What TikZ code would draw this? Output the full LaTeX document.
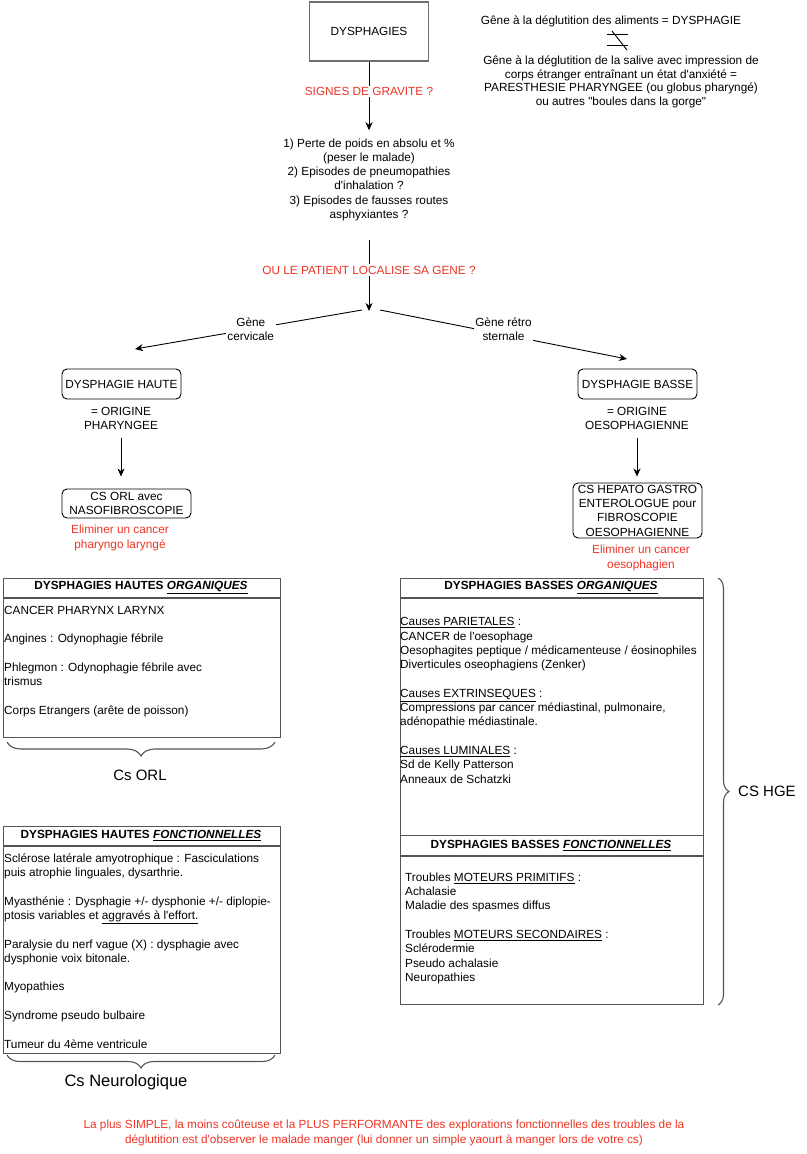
\documentclass[tikz,border=0pt]{standalone}
\usepackage{fontspec}
\setmainfont{Liberation Sans}
\newfontfamily\lsans{Liberation Sans}
\usetikzlibrary{arrows.meta,decorations.pathreplacing}
\definecolor{redtxt}{RGB}{238,52,36}
\definecolor{boxgray}{RGB}{85,85,85}
\definecolor{topgray}{RGB}{110,110,110}
\newcommand\ulx[1]{\underline{#1}}
\begin{document}
\begin{tikzpicture}[x=1pt,y=-1pt,
  font=\lsans\fontsize{11.8}{14.3}\selectfont,
  txt/.style={inner sep=0pt, align=center},
  rtxt/.style={txt, text=redtxt},
  lab/.style={fill=white, inner sep=1.5pt, align=center},
  rlab/.style={lab, text=redtxt},
  rbox/.style={draw=black, line width=0.9pt, rounded corners=5pt, inner sep=0pt, align=center},
  bigbox/.style={draw=boxgray, line width=1.2pt, inner sep=0pt, anchor=north west},
  hdr/.style={inner sep=0pt, font=\lsans\fontsize{11.8}{14.3}\selectfont\bfseries},
  body/.style={inner sep=0pt, align=left, anchor=north west},
  arr/.style={line width=0.9pt, -{Stealth[length=8pt,width=7pt,inset=2.5pt]}},
  conn/.style={line width=0.9pt},
  brc/.style={draw=boxgray, line width=1.1pt, decorate, decoration={brace, amplitude=#1}},
  big/.style={inner sep=0pt, font=\lsans\fontsize{15}{17}\selectfont}
]
\useasboundingbox (0,0) rectangle (806,1154);

% ---------- top ----------
\node[draw=topgray, line width=1.5pt, minimum width=119pt, minimum height=59pt, inner sep=0pt] (top) at (369,31.5) {DYSPHAGIES};

\node[txt, inner ysep=8pt] (info) at (369,179.7) {1) Perte de poids en absolu et \%\\(peser le malade)\\2) Episodes de pneumopathies\\d'inhalation ?\\3) Episodes de fausses routes\\asphyxiantes ?};

\coordinate (split) at (369,311);
\coordinate (cl) at (362,310);
\coordinate (cr) at (380,310);
\coordinate (el) at (135,349);
\coordinate (er) at (627,359);

\draw[arr] (top.south) -- (info.north) node[rlab, pos=0.432] {SIGNES DE GRAVITE ?};
\draw[arr, shorten <=11pt] (info.south) -- (split) node[rlab, pos=0.5] {OU LE PATIENT LOCALISE SA GENE ?};

\draw[arr] (cl) -- (el) node[lab, pos=0.49] {Gène\\cervicale};
\draw[arr] (cr) -- (er) node[lab, pos=0.5, yshift=5pt] {Gène rétro\\sternale};

% ---------- right top note ----------
\node[txt] (note1) at (611,21) {Gêne à la déglutition des aliments = DYSPHAGIE};
\node[txt, font=\lsans\fontsize{11.8}{13.7}\selectfont] (note2) at (621,82) {Gêne à la déglutition de la salive avec impression de\\corps étranger entraînant un état d'anxiété =\\PARESTHESIE PHARYNGEE (ou globus pharyngé)\\ou autres "boules dans la gorge"};
\draw[line width=0.9pt] (607,34) -- (628,34);
\draw[line width=0.9pt] (607,45) -- (628,45);
\draw[line width=0.9pt] (612,31) -- (627,50);

% ---------- left branch ----------
\node[rbox, minimum width=119pt, minimum height=30pt] (dh) at (121.5,384) {DYSPHAGIE HAUTE};
\node[txt] (oh) at (121,418.5) {= ORIGINE\\PHARYNGEE};
\node[rbox, minimum width=129pt, minimum height=29pt] (orl) at (126.5,503.5) {CS ORL avec\\NASOFIBROSCOPIE};
\draw[arr, shorten <=8pt, shorten >=12pt] (oh.south) -- (oh.south |- orl.north);
\node[rtxt] (elim1) at (120,538) {Eliminer un cancer\\pharyngo laryngé};

% ---------- right branch ----------
\node[rbox, minimum width=119pt, minimum height=30pt] (db) at (637.5,384) {DYSPHAGIE BASSE};
\node[txt] (ob) at (637,418.5) {= ORIGINE\\OESOPHAGIENNE};
\node[rbox, minimum width=129pt, minimum height=55pt] (hge) at (637.5,510.5) {CS HEPATO GASTRO\\ENTEROLOGUE pour\\FIBROSCOPIE\\OESOPHAGIENNE};
\draw[arr, shorten <=8pt, shorten >=6pt] (ob.south) -- (ob.south |- hge.north);
\node[rtxt] (elim2) at (641,558) {Eliminer un cancer\\oesophagien};

% ---------- Hautes organiques ----------
\node[bigbox, minimum width=277pt, minimum height=159pt] (ho) at (2.5,578) {};
\draw[draw=boxgray, line width=1.2pt] ([yshift=-20pt]ho.north west) -- ([yshift=-20pt]ho.north east);
\node[hdr] (hoh) at (141,588) {DYSPHAGIES HAUTES \ulx{\textit{ORGANIQUES}}};
\node[body] (hob) at (4,602.5) {\rule{0pt}{11.5pt}CANCER PHARYNX LARYNX\\[14.3pt]
Angines : Odynophagie fébrile\\[14.3pt]
Phlegmon : Odynophagie fébrile avec\\
trismus\\[14.3pt]
Corps Etrangers (arête de poisson)};
\draw[brc=14] (275,742) -- (7,742);
\node[big] (csorl) at (140,775) {Cs ORL};

% ---------- Hautes fonctionnelles ----------
\node[bigbox, minimum width=277pt, minimum height=227pt] (hf) at (2.5,825.5) {};
\draw[draw=boxgray, line width=1.2pt] ([yshift=-20.5pt]hf.north west) -- ([yshift=-20.5pt]hf.north east);
\node[hdr] (hfh) at (141,835.5) {DYSPHAGIES HAUTES \ulx{\textit{FONCTIONNELLES}}};
\node[body] (hfb) at (4,850.5) {\rule{0pt}{11.5pt}Sclérose latérale amyotrophique : Fasciculations\\
puis atrophie linguales, dysarthrie.\\[14.3pt]
Myasthénie : Dysphagie +/- dysphonie +/- diplopie-\\
ptosis variables et \ulx{aggravés à l'effort.}\\[14.3pt]
Paralysie du nerf vague (X) : dysphagie avec\\
dysphonie voix bitonale.\\[14.3pt]
Myopathies\\[14.3pt]
Syndrome pseudo bulbaire\\[14.3pt]
Tumeur du 4ème ventricule};
\draw[brc=13] (275,1055) -- (7,1055);
\node[big, font=\lsans\fontsize{16.5}{19}\selectfont] (csneuro) at (126,1082) {Cs Neurologique};

% ---------- Basses organiques ----------
\node[bigbox, minimum width=303pt, minimum height=257pt] (bo) at (399.5,578) {};
\draw[draw=boxgray, line width=1.2pt] ([yshift=-20pt]bo.north west) -- ([yshift=-20pt]bo.north east);
\node[hdr] (boh) at (551,587.5) {DYSPHAGIES BASSES \ulx{\textit{ORGANIQUES}}};
\node[body] (bob) at (400,614) {\rule{0pt}{11.5pt}\ulx{Causes PARIETALES} :\\
CANCER de l'oesophage\\
Oesophagites peptique / médicamenteuse / éosinophiles\\
Diverticules oseophagiens (Zenker)\\[14.3pt]
\ulx{Causes EXTRINSEQUES} :\\
Compressions par cancer médiastinal, pulmonaire,\\
adénopathie médiastinale.\\[14.3pt]
\ulx{Causes LUMINALES} :\\
Sd de Kelly Patterson\\
Anneaux de Schatzki};

% ---------- Basses fonctionnelles ----------
\node[bigbox, minimum width=303pt, minimum height=169pt] (bf) at (399.5,835) {};
\draw[draw=boxgray, line width=1.2pt] ([yshift=-21pt]bf.north west) -- ([yshift=-21pt]bf.north east);
\node[hdr] (bfh) at (551,845.5) {DYSPHAGIES BASSES \ulx{\textit{FONCTIONNELLES}}};
\node[body] (bfb) at (405,869.5) {\rule{0pt}{11.5pt}Troubles \ulx{MOTEURS PRIMITIFS} :\\
Achalasie\\
Maladie des spasmes diffus\\[14.3pt]
Troubles \ulx{MOTEURS SECONDAIRES} :\\
Sclérodermie\\
Pseudo achalasie\\
Neuropathies};

\draw[brc=11] (718,578) -- (718,1005);
\node[big, anchor=west] (cshge) at (738,791) {CS HGE};

% ---------- bottom note ----------
\node[rtxt] (final) at (384,1133) {La plus SIMPLE, la moins coûteuse et la PLUS PERFORMANTE des explorations fonctionnelles des troubles de la\\déglutition est d'observer le malade manger (lui donner un simple yaourt à manger lors de votre cs)};
\end{tikzpicture}
\end{document}
